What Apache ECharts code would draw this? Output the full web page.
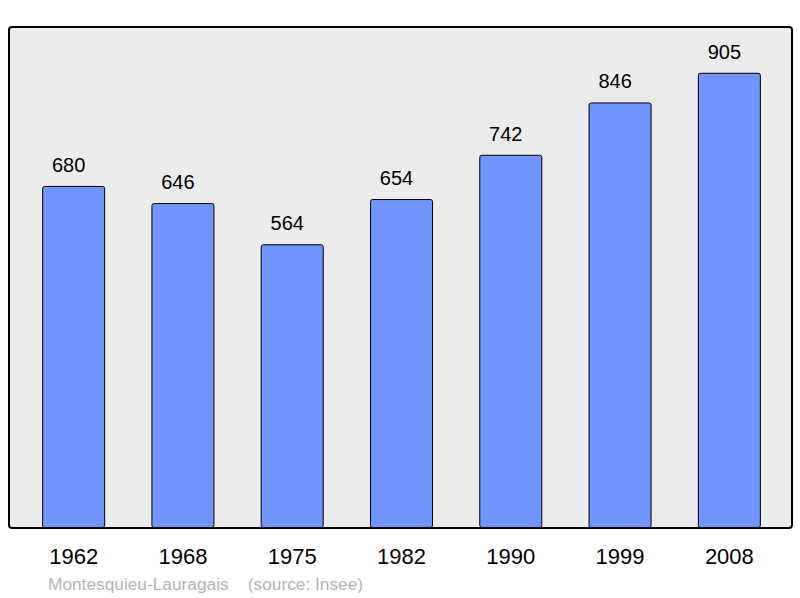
<!DOCTYPE html>
<html>
<head>
<meta charset="utf-8">
<script src="https://cdn.jsdelivr.net/npm/echarts@6/dist/echarts.min.js"></script>
<style>
  html, body { margin: 0; padding: 0; background: #fff; }
  #chart { width: 800px; height: 598px; }
</style>
</head>
<body>
<div id="chart"></div>
<script>
// Population by census year
const years = ['1962', '1968', '1975', '1982', '1990', '1999', '2008'];
const population = [680, 646, 564, 654, 742, 846, 905];

const chart = echarts.init(document.getElementById('chart'), null, { renderer: 'svg' });

chart.setOption({
  animation: false,
  backgroundColor: '#ffffff',
  graphic: [
    {
      type: 'rect',
      z: -10,
      shape: { x: 9, y: 27, width: 783, height: 501, r: 3 },
      style: { fill: '#ececec', stroke: '#000', lineWidth: 2 }
    },
    {
      type: 'text',
      left: 48,
      top: 575,
      style: {
        text: 'Montesquieu-Lauragais    (source: Insee)',
        font: '17.3px "Liberation Sans", Arial, sans-serif',
        fill: '#b4b4b4'
      }
    }
  ],
  grid: { left: 19, right: 16, top: 25, bottom: 70 },
  xAxis: {
    type: 'category',
    data: years,
    axisLine: { show: false },
    axisTick: { show: false },
    axisLabel: {
      margin: 17,
      fontSize: 22,
      color: '#000',
      fontFamily: '"Liberation Sans", Arial, sans-serif'
    }
  },
  yAxis: {
    type: 'value',
    min: 0,
    max: 1000,
    show: false,
    splitLine: { show: false }
  },
  series: [{
    type: 'bar',
    data: population,
    barWidth: 63,
    itemStyle: {
      color: '#7095ff',
      borderColor: '#000',
      borderWidth: 1,
      borderRadius: 2
    },
    label: {
      show: true,
      position: 'top',
      distance: 11,
      offset: [-5, 0],
      fontSize: 20,
      color: '#000',
      fontFamily: '"Liberation Sans", Arial, sans-serif'
    }
  }]
});
</script>
</body>
</html>
